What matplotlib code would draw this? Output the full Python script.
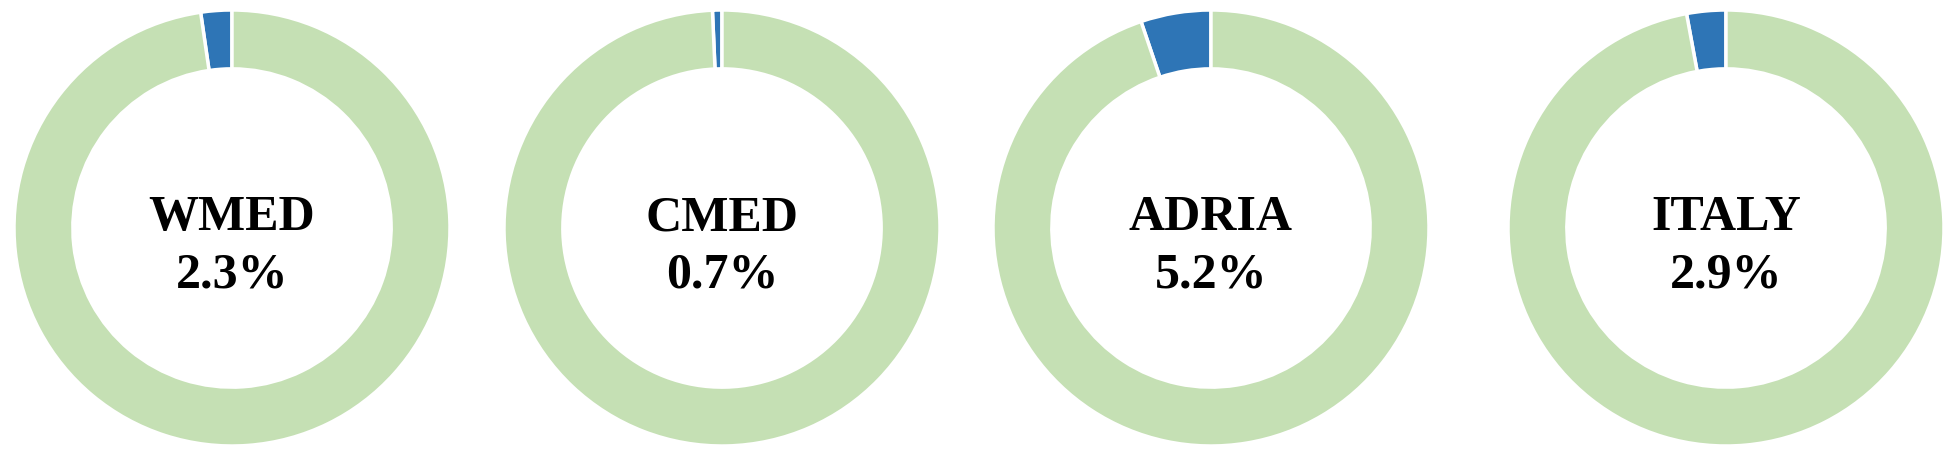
import matplotlib.pyplot as plt

regions = ["WMED", "CMED", "ADRIA", "ITALY"]
shares = [2.3, 0.7, 5.2, 2.9]

blue = "#2e75b6"
green = "#c5e0b4"

W, H = 1949, 463
fig = plt.figure(figsize=(W / 100, H / 100), dpi=100)

# donut centres / radius in pixels (from the reference)
centres_x = [232, 722, 1211, 1726]
centre_y = 228
r = 218

for name, pct, cx in zip(regions, shares, centres_x):
    ax = fig.add_axes([(cx - r) / W, 1 - (centre_y + r) / H, 2 * r / W, 2 * r / H])
    ax.pie([pct, 100 - pct], colors=[blue, green], startangle=90, counterclock=True,
           radius=1.0, wedgeprops=dict(width=0.27, edgecolor="white", linewidth=2.5))
    ax.set_xlim(-1, 1)
    ax.set_ylim(-1, 1)
    ax.set_aspect("equal")
    ax.axis("off")
    ax.text(0, -0.01, name, ha="center", va="baseline", fontsize=36,
            fontweight="bold", family="Liberation Serif")
    ax.text(0, -0.275, f"{pct}%", ha="center", va="baseline", fontsize=36,
            fontweight="bold", family="Liberation Serif")

fig.savefig("out.png", dpi=100)
